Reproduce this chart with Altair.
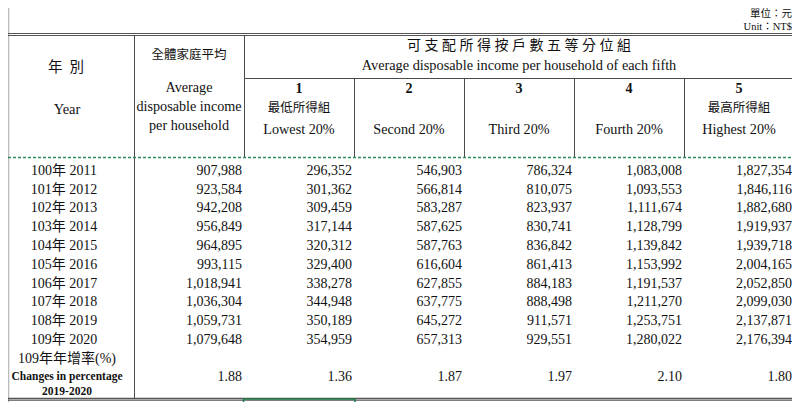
import altair as alt
import pandas as pd

# ---------------- data ----------------
years_roc = ["100年", "101年", "102年", "103年", "104年", "105年", "106年", "107年", "108年", "109年"]
years_ad = ["2011", "2012", "2013", "2014", "2015", "2016", "2017", "2018", "2019", "2020"]
avg_all = [907988, 923584, 942208, 956849, 964895, 993115, 1018941, 1036304, 1059731, 1079648]
q1 = [296352, 301362, 309459, 317144, 320312, 329400, 338278, 344948, 350189, 354959]
q2 = [546903, 566814, 583287, 587625, 587763, 616604, 627855, 637775, 645272, 657313]
q3 = [786324, 810075, 823937, 830741, 836842, 861413, 884183, 888498, 911571, 929551]
q4 = [1083008, 1093553, 1111674, 1128799, 1139842, 1153992, 1191537, 1211270, 1253751, 1280022]
q5 = [1827354, 1846116, 1882680, 1919937, 1939718, 2004165, 2052850, 2099030, 2137871, 2176394]
changes = [1.88, 1.36, 1.87, 1.97, 2.10, 1.80]
quintile_nums = ["1", "2", "3", "4", "5"]
quintile_zh = ["最低所得組", "", "", "", "最高所得組"]
quintile_en = ["Lowest 20%", "Second 20%", "Third 20%", "Fourth 20%", "Highest 20%"]
unit_zh = "單位：元"
unit_en = "Unit：NT$"
year_head_zh = "年\u2002別"
year_head_en = "Year"
avg_head_zh = "全體家庭平均"
avg_head_en = ["Average", "disposable income", "per household"]
group_head_zh = "可 支 配 所 得 按 戶 數 五 等 分 位 組"
group_head_en = "Average disposable income per household of each fifth"
change_head = ["109年年增率(%)", "Changes in percentage", "2019-2020"]

# ---------------- layout (table geometry) ----------------
col_edges = [0, 134, 244, 354, 464, 574, 684, 794]
row0, row_step = 170.7, 18.8
change_y = 377
FONT = "Liberation Serif, Noto Sans CJK TC"
INK = "#111111"

# page is 800x410 with an 8px margin -> 784x394 drawing area
xs = alt.Scale(domain=[0, 30, 792], range=[0, 22, 784], nice=False, zero=False, clamp=True)
ys = alt.Scale(domain=[0, 30, 380, 410], range=[0, 22, 372, 394], nice=False, zero=False, clamp=True)

# numeric cells
series = [avg_all, q1, q2, q3, q4, q5]
cells = []
for j, s in enumerate(series):
    for i, v in enumerate(s):
        cells.append({"t": f"{v:,}", "x": col_edges[j + 2] - 2, "y": row0 + i * row_step, "s": 14})
    cells.append({"t": f"{changes[j]:.2f}", "x": col_edges[j + 2] - 2, "y": change_y, "s": 14})
cells_df = pd.DataFrame(cells)

# centered texts (regular)
center = []
for i in range(len(years_roc)):
    center.append({"t": f"{years_roc[i]} {years_ad[i]}", "x": 64, "y": row0 + i * row_step, "s": 14})
center += [
    {"t": year_head_zh, "x": 66, "y": 68, "s": 14.5},
    {"t": year_head_en, "x": 67, "y": 110, "s": 14.5},
    {"t": avg_head_zh, "x": 189, "y": 55, "s": 12.5},
    {"t": avg_head_en[0], "x": 189, "y": 88, "s": 14.2},
    {"t": avg_head_en[1], "x": 189, "y": 107, "s": 14.2},
    {"t": avg_head_en[2], "x": 189, "y": 126, "s": 14.2},
    {"t": group_head_zh, "x": 519, "y": 46, "s": 14},
    {"t": group_head_en, "x": 519, "y": 66, "s": 14.3},
    {"t": change_head[0], "x": 67, "y": 359, "s": 14},
]
for k in range(5):
    cx = (col_edges[k + 2] + col_edges[k + 3]) / 2
    if quintile_zh[k]:
        center.append({"t": quintile_zh[k], "x": cx, "y": 107.5, "s": 12.5})
    center.append({"t": quintile_en[k], "x": cx, "y": 130, "s": 14.2})
center_df = pd.DataFrame(center)

bold = [{"t": quintile_nums[k], "x": (col_edges[k + 2] + col_edges[k + 3]) / 2, "y": 88.5, "s": 14}
        for k in range(5)]
bold += [
    {"t": change_head[1], "x": 67, "y": 377, "s": 11.5},
    {"t": change_head[2], "x": 67, "y": 396, "s": 11.5},
]
bold_df = pd.DataFrame(bold)

unit_df = pd.DataFrame([
    {"t": unit_zh, "x": 792, "y": 8.2, "s": 10.5},
    {"t": unit_en, "x": 792, "y": 25.3, "s": 10.5},
])

# grid lines
G = "#4a4a4a"
D = "#555555"
lines = [
    {"x": 1, "x2": 1, "y": 0, "y2": 410, "c": "#a8a8a8", "w": 1},
    {"x": 0, "x2": 795, "y": 33.5, "y2": 33.5, "c": D, "w": 1.2},
    {"x": 0, "x2": 795, "y": 35.5, "y2": 35.5, "c": D, "w": 1.2},
    {"x": 134.5, "x2": 134.5, "y": 35, "y2": 405, "c": G, "w": 1},
    {"x": 244.5, "x2": 244.5, "y": 35, "y2": 157, "c": G, "w": 1},
    {"x": 244, "x2": 795, "y": 78.5, "y2": 78.5, "c": G, "w": 1},
    {"x": 0, "x2": 795, "y": 405, "y2": 405, "c": D, "w": 1.2},
    {"x": 0, "x2": 795, "y": 407.5, "y2": 407.5, "c": D, "w": 1.2},
]
for e in col_edges[3:7]:
    lines.append({"x": e + 0.5, "x2": e + 0.5, "y": 78, "y2": 157, "c": G, "w": 1})
# selection box remnant at the bottom
GR = "#1f7a4a"
lines += [
    {"x": 243.5, "x2": 355, "y": 406, "y2": 406, "c": GR, "w": 1.6},
    {"x": 243.5, "x2": 243.5, "y": 406, "y2": 410, "c": GR, "w": 1.6},
    {"x": 355, "x2": 355, "y": 406, "y2": 410, "c": GR, "w": 1.6},
]
lines_df = pd.DataFrame(lines)
dash_df = pd.DataFrame([{"x": 0, "x2": 795, "y": 157.5, "y2": 157.5}])


def X(f="x"):
    return alt.X(f, type="quantitative", scale=xs, axis=None)


def Y(f="y"):
    return alt.Y(f, type="quantitative", scale=ys, axis=None)


rules = alt.Chart(lines_df).mark_rule().encode(
    x=X(), x2="x2", y=Y(), y2="y2",
    color=alt.Color("c:N", scale=None),
    strokeWidth=alt.StrokeWidth("w:Q", scale=None),
)
dashed = alt.Chart(dash_df).mark_rule(color="#2e8b57", strokeWidth=1.6, strokeDash=[3, 2]).encode(
    x=X(), x2="x2", y=Y(), y2="y2"
)


def text_layer(df, align, weight="normal"):
    return alt.Chart(df).mark_text(
        align=align, baseline="middle", font=FONT, color=INK, fontWeight=weight
    ).encode(x=X(), y=Y(), text="t:N", size=alt.Size("s:Q", scale=None))


chart = alt.layer(
    rules,
    dashed,
    text_layer(cells_df, "right"),
    text_layer(center_df, "center"),
    text_layer(bold_df, "center", "bold"),
    text_layer(unit_df, "right"),
).properties(
    width=784, height=394, padding=0, autosize=alt.AutoSizeParams(type="none"), background="white"
).configure_view(strokeWidth=0)

chart.save("out.html", embed_options={"renderer": "svg", "actions": False})
